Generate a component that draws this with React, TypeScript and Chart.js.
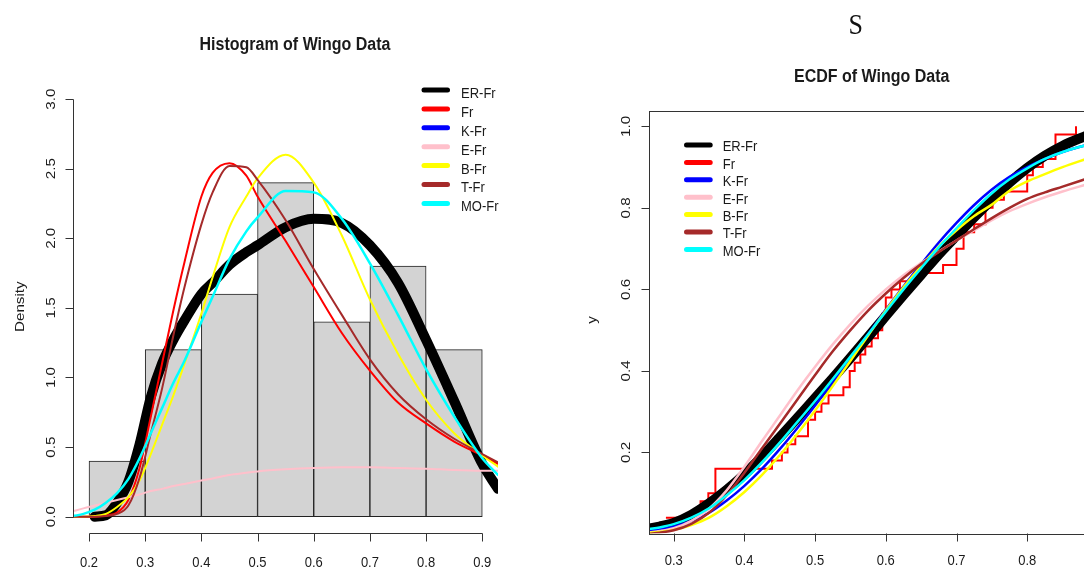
import React, { useEffect, useRef } from "react";
import { Chart, registerables } from "chart.js";

Chart.register(...registerables);

// ---------------- data ----------------
const SERIES_NAMES = ["ER-Fr", "Fr", "K-Fr", "E-Fr", "B-Fr", "T-Fr", "MO-Fr"];
const SERIES_COLORS = ["#000000", "#FF0000", "#0000FF", "#FFC0CB", "#FFFF00", "#A52A2A", "#00FFFF"];

// Histogram panel
const HIST_BREAKS = [0.2, 0.3, 0.4, 0.5, 0.6, 0.7, 0.8, 0.9];
const HIST_DENSITY = [0.4, 1.2, 1.6, 2.4, 1.4, 1.8, 1.2];
const HIST_X_TICKS = [0.2, 0.3, 0.4, 0.5, 0.6, 0.7, 0.8, 0.9];
const HIST_Y_TICKS = [0, 0.5, 1, 1.5, 2, 2.5, 3];

const DENS_X = [0.172, 0.19, 0.21, 0.23, 0.25, 0.27, 0.29, 0.31, 0.33, 0.35, 0.37, 0.4, 0.42, 0.45, 0.48, 0.5, 0.55, 0.6, 0.65, 0.7, 0.75, 0.8, 0.85, 0.9, 0.928];
const DENS_ER_FR = [null, null, 0.0, 0.01, 0.1, 0.25, 0.52, 0.86, 1.1, 1.27, 1.41, 1.6, 1.68, 1.81, 1.9, 1.95, 2.08, 2.14, 2.11, 1.95, 1.68, 1.27, 0.83, 0.38, 0.2];
const DENS_FR = [0, 0, 0, 0.01, 0.03, 0.12, 0.35, 0.72, 1.1, 1.48, 1.83, 2.3, 2.47, 2.54, 2.45, 2.3, 1.98, 1.65, 1.32, 1.05, 0.82, 0.67, 0.54, 0.44, 0.38];
const DENS_E_FR = [0.04, 0.06, 0.08, 0.1, 0.12, 0.14, 0.16, 0.185, 0.2, 0.22, 0.235, 0.26, 0.275, 0.3, 0.315, 0.325, 0.34, 0.35, 0.355, 0.355, 0.35, 0.345, 0.335, 0.33, 0.33];
const DENS_B_FR = [0, 0, 0.005, 0.02, 0.07, 0.14, 0.26, 0.45, 0.66, 0.87, 1.1, 1.46, 1.72, 2.08, 2.3, 2.43, 2.6, 2.4, 2.02, 1.56, 1.17, 0.84, 0.6, 0.44, 0.36];
const DENS_T_FR = [0, 0, 0, 0.005, 0.02, 0.08, 0.28, 0.6, 0.92, 1.3, 1.65, 2.1, 2.33, 2.52, 2.51, 2.42, 2.13, 1.78, 1.45, 1.13, 0.88, 0.7, 0.56, 0.45, 0.39];
const DENS_MO_FR = [0.005, 0.02, 0.05, 0.1, 0.17, 0.27, 0.42, 0.6, 0.78, 0.96, 1.12, 1.4, 1.58, 1.85, 2.05, 2.15, 2.34, 2.33, 2.14, 1.82, 1.45, 1.06, 0.72, 0.42, 0.3];

// ECDF panel
const ECDF_X = [0.289, 0.338, 0.349, 0.359, 0.439, 0.453, 0.461, 0.472, 0.49, 0.5, 0.509, 0.519, 0.54, 0.549, 0.556, 0.564, 0.571, 0.58, 0.589, 0.595, 0.6, 0.608, 0.62, 0.645, 0.681, 0.7, 0.71, 0.725, 0.741, 0.751, 0.767, 0.8, 0.808, 0.822, 0.84, 0.869];
const ECDF_Y = [0.04, 0.08, 0.1, 0.16, 0.18, 0.2, 0.22, 0.24, 0.28, 0.3, 0.32, 0.34, 0.36, 0.4, 0.42, 0.44, 0.46, 0.48, 0.5, 0.54, 0.58, 0.6, 0.62, 0.64, 0.66, 0.7, 0.74, 0.76, 0.8, 0.82, 0.84, 0.88, 0.9, 0.92, 0.98, 1.0];

const CDF_X = [0.2656, 0.28, 0.3, 0.325, 0.35, 0.375, 0.4, 0.425, 0.45, 0.475, 0.5, 0.525, 0.55, 0.575, 0.6, 0.625, 0.65, 0.675, 0.7, 0.725, 0.75, 0.775, 0.8, 0.825, 0.85, 0.885];
const CDF_ER_FR = [0.013, 0.018, 0.027, 0.047, 0.075, 0.108, 0.146, 0.19, 0.237, 0.285, 0.333, 0.382, 0.432, 0.483, 0.535, 0.586, 0.636, 0.686, 0.732, 0.777, 0.82, 0.862, 0.898, 0.928, 0.952, 0.978];
const CDF_K_FR = [0.008, 0.011, 0.018, 0.032, 0.052, 0.082, 0.118, 0.16, 0.208, 0.26, 0.315, 0.372, 0.432, 0.49, 0.55, 0.607, 0.662, 0.715, 0.763, 0.807, 0.845, 0.876, 0.9, 0.92, 0.937, 0.955];
const CDF_E_FR = [0.004, 0.007, 0.014, 0.032, 0.062, 0.107, 0.165, 0.228, 0.29, 0.352, 0.41, 0.465, 0.515, 0.56, 0.6, 0.635, 0.665, 0.693, 0.72, 0.745, 0.77, 0.792, 0.81, 0.826, 0.84, 0.858];
const CDF_B_FR = [0.003, 0.005, 0.01, 0.022, 0.04, 0.068, 0.103, 0.145, 0.193, 0.246, 0.303, 0.363, 0.425, 0.487, 0.548, 0.605, 0.657, 0.705, 0.745, 0.78, 0.808, 0.842, 0.865, 0.883, 0.9, 0.921];
const CDF_T_FR = [0.0, 0.003, 0.009, 0.025, 0.052, 0.095, 0.15, 0.21, 0.27, 0.33, 0.39, 0.448, 0.5, 0.548, 0.59, 0.628, 0.662, 0.692, 0.72, 0.748, 0.775, 0.8, 0.822, 0.838, 0.852, 0.872];
const CDF_MO_FR = [0.012, 0.016, 0.024, 0.04, 0.063, 0.095, 0.132, 0.176, 0.224, 0.275, 0.326, 0.38, 0.435, 0.49, 0.545, 0.6, 0.652, 0.703, 0.75, 0.795, 0.836, 0.87, 0.897, 0.92, 0.937, 0.955];

const ECDF_X_TICKS = [0.3, 0.4, 0.5, 0.6, 0.7, 0.8, 0.9];
const ECDF_Y_TICKS = [0.2, 0.4, 0.6, 0.8, 1.0];

const HIST_TITLE = "Histogram of Wingo Data";
const ECDF_TITLE = "ECDF of Wingo Data";
const HIST_Y_LABEL = "Density";
const ECDF_Y_LABEL = "y";
const STRAY_LETTER = "S";

// ---------------- styling helpers ----------------
const FONT = "'Liberation Sans', Arial, Helvetica, sans-serif";
const SY = 1.17;
const AXIS_COLOR = "#333333";
const TEXT_COLOR = "#1a1a1a";
const TICK_LEN = 8;

function drawText(ctx: any, s: string, x: number, y: number, size: number, opts: any = {}) {
  ctx.save();
  ctx.translate(x, y);
  ctx.scale(1, SY);
  if (opts.rot) ctx.rotate(opts.rot);
  ctx.font = `${opts.bold ? "bold " : ""}${size}px ${FONT}`;
  ctx.textAlign = opts.align || "center";
  ctx.textBaseline = "alphabetic";
  ctx.fillStyle = opts.color || TEXT_COLOR;
  ctx.fillText(s, 0, (size * 0.716) / 2);
  ctx.restore();
}

function drawLegend(ctx: any, x1: number, x2: number, textX: number, y0: number, step: number, textDy: number) {
  SERIES_NAMES.forEach((name, i) => {
    const y = y0 + i * step;
    ctx.save();
    ctx.strokeStyle = SERIES_COLORS[i];
    ctx.lineWidth = 5;
    ctx.lineCap = "round";
    ctx.beginPath();
    ctx.moveTo(x1, y);
    ctx.lineTo(x2, y);
    ctx.stroke();
    ctx.restore();
    drawText(ctx, name, textX, y + textDy, 13, { align: "left" });
  });
}

const px = (v: number) => Math.round(v) + 0.5;

const histPlugin = {
  id: "histAxes",
  afterDraw(chart: any) {
    const { ctx, chartArea: a } = chart;
    const xs = chart.scales.x;
    const ys = chart.scales.y;
    ctx.save();
    ctx.strokeStyle = AXIS_COLOR;
    ctx.lineWidth = 1;
    // y axis
    const ax = px(a.left);
    ctx.beginPath();
    ctx.moveTo(ax, px(ys.getPixelForValue(HIST_Y_TICKS[0])));
    ctx.lineTo(ax, px(ys.getPixelForValue(HIST_Y_TICKS[HIST_Y_TICKS.length - 1])));
    HIST_Y_TICKS.forEach((v) => {
      const p = px(ys.getPixelForValue(v));
      ctx.moveTo(ax, p);
      ctx.lineTo(ax - TICK_LEN, p);
    });
    // x axis
    const ay = px(a.bottom);
    ctx.moveTo(px(xs.getPixelForValue(HIST_X_TICKS[0])), ay);
    ctx.lineTo(px(xs.getPixelForValue(HIST_X_TICKS[HIST_X_TICKS.length - 1])), ay);
    HIST_X_TICKS.forEach((v) => {
      const p = px(xs.getPixelForValue(v));
      ctx.moveTo(p, ay);
      ctx.lineTo(p, ay + TICK_LEN);
    });
    ctx.stroke();
    ctx.restore();

    HIST_Y_TICKS.forEach((v) => {
      drawText(ctx, v.toFixed(1), a.left - 23.3, ys.getPixelForValue(v), 13, { rot: -Math.PI / 2 });
    });
    HIST_X_TICKS.forEach((v) => {
      drawText(ctx, v.toFixed(1), xs.getPixelForValue(v), 561.7, 13);
    });
    drawText(ctx, HIST_TITLE, 295, 43.3, 16, { bold: true });
    drawText(ctx, HIST_Y_LABEL, 19.7, 306.7, 13, { rot: -Math.PI / 2 });
    drawLegend(ctx, 424, 447.5, 461, 90, 18.9, 2.5);
  },
};

const ecdfPlugin = {
  id: "ecdfAxes",
  afterDraw(chart: any) {
    const { ctx, chartArea: a } = chart;
    const xs = chart.scales.x;
    const ys = chart.scales.y;
    ctx.save();
    ctx.strokeStyle = AXIS_COLOR;
    ctx.lineWidth = 1;
    ctx.strokeRect(px(a.left), px(a.top), Math.round(a.right - a.left), Math.round(a.bottom - a.top));
    ctx.beginPath();
    const ax = px(a.left);
    ECDF_Y_TICKS.forEach((v) => {
      const p = px(ys.getPixelForValue(v));
      ctx.moveTo(ax, p);
      ctx.lineTo(ax - TICK_LEN, p);
    });
    const ay = px(a.bottom);
    ECDF_X_TICKS.forEach((v) => {
      const p = px(xs.getPixelForValue(v));
      ctx.moveTo(p, ay);
      ctx.lineTo(p, ay + TICK_LEN);
    });
    ctx.stroke();
    ctx.restore();

    ECDF_Y_TICKS.forEach((v) => {
      drawText(ctx, v.toFixed(1), a.left - 24, ys.getPixelForValue(v), 13, { rot: -Math.PI / 2 });
    });
    ECDF_X_TICKS.forEach((v) => {
      drawText(ctx, v.toFixed(1), xs.getPixelForValue(v), 560, 13);
    });
    drawText(ctx, ECDF_TITLE, 331.7, 75, 16, { bold: true });
    drawText(ctx, ECDF_Y_LABEL, 51.5, 320, 13, { rot: -Math.PI / 2 });
    drawLegend(ctx, 146.5, 170.2, 182.7, 145, 17.4, 1);
  },
};

function curve(idx: number, xsArr: number[], ysArr: (number | null)[], width: number, order: number) {
  return {
    type: "line",
    label: SERIES_NAMES[idx],
    data: xsArr.map((x, i) => ({ x, y: ysArr[i] })),
    borderColor: SERIES_COLORS[idx],
    borderWidth: width,
    pointRadius: 0,
    fill: false,
    cubicInterpolationMode: "monotone",
    borderCapStyle: "round",
    borderJoinStyle: "round",
    clip: 0,
    order,
  };
}

function ticksFrom(values: number[]) {
  return (scale: any) => {
    scale.ticks = values.map((v) => ({ value: v }));
  };
}

function histConfig(): any {
  const bars = HIST_DENSITY.map((d, i) => ({ x: (HIST_BREAKS[i] + HIST_BREAKS[i + 1]) / 2, y: d }));
  return {
    type: "line",
    data: {
      datasets: [
        {
          type: "bar",
          label: "hist",
          data: bars,
          backgroundColor: "#D3D3D3",
          borderColor: "#222222",
          borderWidth: 1,
          borderSkipped: false,
          barPercentage: 1,
          categoryPercentage: 1,
          grouped: false,
          order: 100,
        },
        curve(0, DENS_X, DENS_ER_FR, 10, 10),
        curve(1, DENS_X, DENS_FR, 2, 9),
        curve(3, DENS_X, DENS_E_FR, 2, 7),
        curve(4, DENS_X, DENS_B_FR, 2, 6),
        curve(5, DENS_X, DENS_T_FR, 2, 5),
        curve(6, DENS_X, DENS_MO_FR, 2.5, 4),
      ],
    },
    options: {
      animation: false,
      responsive: false,
      devicePixelRatio: 1,
      events: [],
      layout: { padding: { left: 73.3, top: 82.4, right: 42, bottom: 36.6 } },
      plugins: { legend: { display: false }, title: { display: false }, tooltip: { enabled: false } },
      scales: {
        x: { type: "linear", min: 0.172, max: 0.928, display: false, offset: false, afterBuildTicks: ticksFrom(HIST_X_TICKS) },
        y: { type: "linear", min: -0.12, max: 3.12, display: false, afterBuildTicks: ticksFrom(HIST_Y_TICKS) },
      },
    },
    plugins: [histPlugin],
  };
}

function ecdfConfig(): any {
  return {
    type: "line",
    data: {
      datasets: [
        {
          type: "line",
          label: "ECDF",
          data: ECDF_X.map((x, i) => ({ x, y: ECDF_Y[i] })),
          borderColor: SERIES_COLORS[1],
          borderWidth: 2,
          pointRadius: 0,
          fill: false,
          stepped: "before",
          clip: 0,
          order: 50,
        },
        curve(0, CDF_X, CDF_ER_FR, 10, 10),
        curve(2, CDF_X, CDF_K_FR, 2.5, 8),
        curve(3, CDF_X, CDF_E_FR, 2.5, 7),
        curve(4, CDF_X, CDF_B_FR, 2.5, 6),
        curve(5, CDF_X, CDF_T_FR, 2.5, 5),
        curve(6, CDF_X, CDF_MO_FR, 2.5, 4),
      ],
    },
    options: {
      animation: false,
      responsive: false,
      devicePixelRatio: 1,
      events: [],
      layout: { padding: { left: 109.3, top: 110.7, right: 23, bottom: 36.7 } },
      plugins: { legend: { display: false }, title: { display: false }, tooltip: { enabled: false } },
      scales: {
        x: { type: "linear", min: 0.2655, max: 0.927, display: false, afterBuildTicks: ticksFrom(ECDF_X_TICKS) },
        y: { type: "linear", min: 0.0016, max: 1.0384, display: false, afterBuildTicks: ticksFrom(ECDF_Y_TICKS) },
      },
    },
    plugins: [ecdfPlugin],
  };
}

export default function App() {
  const leftRef = useRef<HTMLCanvasElement>(null);
  const rightRef = useRef<HTMLCanvasElement>(null);

  useEffect(() => {
    const c1 = new Chart(leftRef.current as HTMLCanvasElement, histConfig());
    const c2 = new Chart(rightRef.current as HTMLCanvasElement, ecdfConfig());
    return () => {
      c1.destroy();
      c2.destroy();
    };
  }, []);

  return (
    <div
      style={{
        position: "fixed",
        left: 0,
        top: 0,
        width: 1084,
        height: 570,
        overflow: "hidden",
        background: "#ffffff",
      }}
    >
      <canvas
        ref={leftRef}
        width={540}
        height={570}
        style={{ position: "absolute", left: 0, top: 0, width: 540, height: 570 }}
      />
      <canvas
        ref={rightRef}
        width={600}
        height={570}
        style={{ position: "absolute", left: 540, top: 0, width: 600, height: 570 }}
      />
      <span
        style={{
          position: "absolute",
          left: 855.7,
          top: 25,
          transform: "translate(-50%, -50%) scaleY(1.1)",
          fontFamily: "'Liberation Serif', 'Times New Roman', serif",
          fontSize: 26,
          lineHeight: 1,
          color: "#111",
        }}
      >
        {STRAY_LETTER}
      </span>
    </div>
  );
}
